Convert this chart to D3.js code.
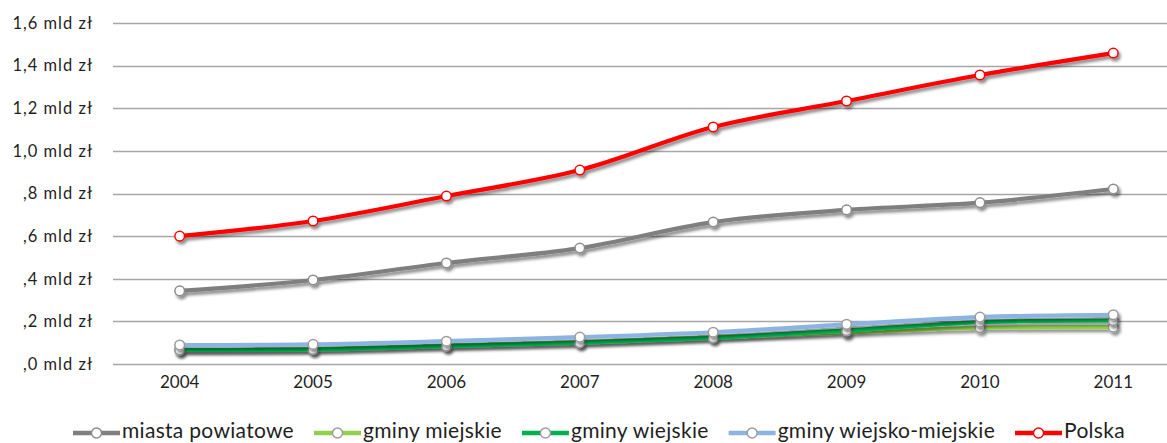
<!DOCTYPE html>
<html>
<head>
<meta charset="utf-8">
<script src="https://cdn.jsdelivr.net/npm/d3@7/dist/d3.min.js"></script>
<style>
  html, body { margin: 0; padding: 0; background: #fff; }
  svg { display: block; }
  text { font-family: Lato, "Open Sans", sans-serif; fill: #1f1f1f; }
</style>
</head>
<body>
<svg id="chart" width="1167" height="443"></svg>
<script>
// Years on the horizontal axis
const years = ["2004", "2005", "2006", "2007", "2008", "2009", "2010", "2011"];

// Values in billion zł per year
const miastaPowiatowe = [0.343, 0.394, 0.474, 0.544, 0.666, 0.723, 0.757, 0.821];
const gminyMiejskie = [0.066, 0.071, 0.087, 0.102, 0.126, 0.148, 0.170, 0.173];
const gminyWiejskie = [0.066, 0.068, 0.084, 0.100, 0.123, 0.157, 0.196, 0.204];
const gminyWiejskoMiejskie = [0.089, 0.092, 0.107, 0.126, 0.149, 0.186, 0.220, 0.231];
const polska = [0.600, 0.671, 0.788, 0.910, 1.112, 1.234, 1.356, 1.459];

// Y-axis ticks and their labels
const yTicks = [0, 0.2, 0.4, 0.6, 0.8, 1.0, 1.2, 1.4, 1.6];
const yTickLabels = [",0 mld zł", ",2 mld zł", ",4 mld zł", ",6 mld zł", ",8 mld zł",
                     "1,0 mld zł", "1,2 mld zł", "1,4 mld zł", "1,6 mld zł"];

const seriesNames = ["miasta powiatowe", "gminy miejskie", "gminy wiejskie",
                     "gminy wiejsko-miejskie", "Polska"];
const seriesValues = [miastaPowiatowe, gminyMiejskie, gminyWiejskie, gminyWiejskoMiejskie, polska];
const seriesColors = ["#7f7f7f", "#92d050", "#00b050", "#8db3e2", "#ff0000"];
const markerStroke = ["#8c8c8c", "#9a9a9a", "#9a9a9a", "#9a9a9a", "#ff0000"];

const svg = d3.select("#chart");

const defs = svg.append("defs");
const shadow = defs.append("filter").attr("id", "shadow")
  .attr("x", "-5%").attr("y", "-50%").attr("width", "110%").attr("height", "200%");
shadow.append("feDropShadow")
  .attr("dx", 2).attr("dy", 3).attr("stdDeviation", 1.8)
  .attr("flood-color", "#000").attr("flood-opacity", 0.45);

const x = d3.scaleBand().domain(years).range([113, 1180]).padding(0);
const y = d3.scaleLinear().domain([0, 1.6]).range([364, 23]);
const cx = d => x(d) + x.bandwidth() / 2;

// Horizontal gridlines
svg.append("g").selectAll("line").data(yTicks).join("line")
  .attr("x1", 113).attr("x2", 1180)
  .attr("y1", d => Math.round(y(d)) + 0.5).attr("y2", d => Math.round(y(d)) + 0.5)
  .attr("stroke", "#a6a6a6").attr("stroke-width", 1.5);

// Y-axis labels
const yAxis = d3.axisLeft(y).tickValues(yTicks)
  .tickFormat((d, i) => yTickLabels[i]).tickSize(0).tickPadding(0);
const yg = svg.append("g").attr("transform", "translate(93,0)").call(yAxis);
yg.select(".domain").remove();
yg.selectAll("text")
  .style("font-size", "16.5px").style("letter-spacing", "1px")
  .attr("fill", "#1f1f1f");

// X-axis labels
const xAxis = d3.axisBottom(x).tickSize(0).tickPadding(0);
const xg = svg.append("g").attr("transform", "translate(0,376)").call(xAxis);
xg.select(".domain").remove();
xg.selectAll("text").style("font-size", "17px").attr("fill", "#1f1f1f");

// Series lines with markers
const line = d3.line()
  .x((d, i) => cx(years[i]))
  .y(d => y(d))
  .curve(d3.curveCatmullRom.alpha(0.5));

seriesValues.forEach((vals, s) => {
  const g = svg.append("g").attr("filter", "url(#shadow)");
  g.append("path").datum(vals)
    .attr("d", line)
    .attr("fill", "none")
    .attr("stroke", seriesColors[s])
    .attr("stroke-width", 4.2)
    .attr("stroke-linejoin", "round")
    .attr("stroke-linecap", "round");
  g.selectAll("circle").data(vals).join("circle")
    .attr("cx", (d, i) => cx(years[i]))
    .attr("cy", d => y(d))
    .attr("r", 4.8)
    .attr("fill", "#fff")
    .attr("stroke", markerStroke[s])
    .attr("stroke-width", 1.5);
});

// Legend along the bottom edge
const legend = svg.append("g").attr("transform", "translate(0,433)");
const items = legend.selectAll("g").data(seriesNames).join("g");
items.append("line")
  .attr("x1", 0).attr("x2", 47).attr("y1", 0).attr("y2", 0)
  .attr("stroke", (d, i) => seriesColors[i]).attr("stroke-width", 4.5);
items.append("circle")
  .attr("cx", 23.5).attr("cy", 0).attr("r", 5)
  .attr("fill", "#fff")
  .attr("stroke", (d, i) => markerStroke[i]).attr("stroke-width", 1.4);
items.append("text")
  .attr("x", 49).attr("y", 5)
  .style("font-size", "21px")
  .style("letter-spacing", "0.3px")
  .text(d => d);

const widths = [];
items.each(function () {
  widths.push(this.querySelector("text").getComputedTextLength() + 49);
});
const gap = 20;
let start = 73;
items.attr("transform", (d, i) => {
  const t = `translate(${start},0)`;
  start += widths[i] + gap;
  return t;
});
</script>
</body>
</html>
